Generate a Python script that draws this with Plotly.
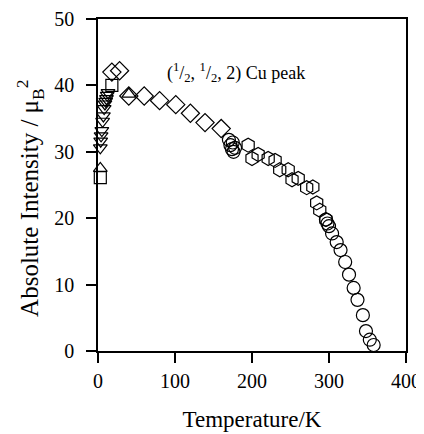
import plotly.graph_objects as go

# Data
sq_T = [3, 18]
sq_I = [26.1, 40.0]

up_T = [3, 40]
up_I = [27.5, 38.7]

dn_T = [13, 12, 11, 10, 9, 8, 7, 6, 5, 4, 3.5, 3]
dn_I = [38.9, 38.5, 38.0, 37.6, 37.2, 36.5, 35.4, 34.6, 33.2, 32.4, 31.6, 30.6]

dia_T = [18, 28, 40, 60, 80, 101, 120, 139, 160]
dia_I = [42.0, 42.2, 38.4, 38.4, 37.7, 37.1, 35.8, 34.4, 33.5]

hex_T = [195, 200, 208, 221, 230, 236, 247, 252, 260, 271, 279, 284, 288, 296]
hex_I = [31.0, 29.0, 29.6, 29.0, 28.7, 27.3, 27.3, 25.8, 26.0, 24.6, 24.7, 22.3, 21.2, 19.8]

cir_T = [170, 172, 174, 176, 178, 175, 296, 298, 300, 304, 310, 315, 321, 326, 332, 337, 344, 348, 353, 358]
cir_I = [31.8, 31.0, 30.4, 30.0, 30.6, 31.4, 19.8, 19.2, 18.8, 17.7, 16.4, 15.2, 13.4, 11.5, 9.5, 7.7, 5.4, 3.0, 1.7, 0.9]

fig = go.Figure()

def add(T, I, sym, size):
    fig.add_trace(go.Scatter(
        x=T, y=I, mode="markers",
        marker=dict(symbol=sym, size=size, color="black",
                    line=dict(color="black", width=1.2)),
        showlegend=False, hoverinfo="skip", cliponaxis=False))

add(cir_T, cir_I, "circle-open", 13)
add(hex_T, hex_I, "hexagon-open", 14)
add(dia_T, dia_I, "diamond-open", 14)
add(dn_T, dn_I, "triangle-down-open", 12)
add(up_T, up_I, "triangle-up-open", 12)
add(sq_T, sq_I, "square-open", 12)

fam = "Liberation Serif, Times New Roman, serif"

fig.add_annotation(
    x=87, y=41.9, xref="x", yref="y", xanchor="left", yanchor="middle",
    text="(<sup>1</sup>/<sub>2</sub>, <sup>1</sup>/<sub>2</sub>, 2) Cu peak",
    showarrow=False, font=dict(family=fam, size=18, color="black"))

# y-axis title placed as rotated annotation
fig.add_annotation(
    x=-0.221, y=0.461, xref="paper", yref="paper", xanchor="center", yanchor="middle",
    text="Absolute Intensity / μ<sub>B</sub><sup>2</sup>", textangle=-90,
    showarrow=False, font=dict(family=fam, size=25, color="black"))

fig.update_layout(
    width=424, height=434,
    margin=dict(l=90, r=26, t=11, b=91),
    paper_bgcolor="white", plot_bgcolor="white",
    font=dict(family=fam, size=20, color="black"),
    xaxis=dict(range=[0, 400], tickvals=[0, 100, 200, 300, 400],
               showline=True, linecolor="black", linewidth=1.5, mirror=True,
               ticks="outside", ticklen=10, tickwidth=1.5, tickcolor="black",
               showgrid=False, zeroline=False, automargin=False,
               tickfont=dict(family=fam, size=20, color="black"),
               title=dict(text="Temperature/K", standoff=20,
                          font=dict(family=fam, size=23, color="black")),
               ticklabelstandoff=1),
    yaxis=dict(range=[0, 50], tickvals=[0, 10, 20, 30, 40, 50],
               showline=True, linecolor="black", linewidth=1.5, mirror=True,
               ticks="outside", ticklen=10, tickwidth=1.5, tickcolor="black",
               showgrid=False, zeroline=False, automargin=False,
               tickfont=dict(family=fam, size=20, color="black"),
               ticklabelstandoff=8),
)

fig.write_html("out.html")
